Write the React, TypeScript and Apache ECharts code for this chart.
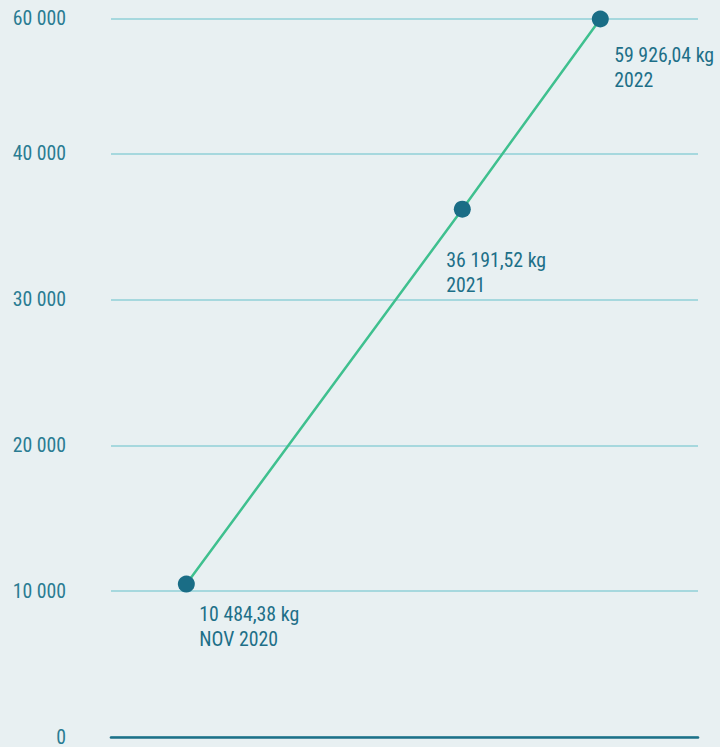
import React, { useEffect, useRef } from "react";
import * as echarts from "echarts";

// Tick values shown on the (piecewise) y axis, and where each sits on the axis
const tickValues = [0, 10000, 20000, 30000, 40000, 60000];
const tickLabels = ["0", "10 000", "20 000", "30 000", "40 000", "60 000"];
const tickPositions = [0, 1, 2, 3, 4, 4.927];

// Series
const periods = ["NOV 2020", "2021", "2022"];
const periodIndex = [0, 2, 3];
const amounts = [10484.38, 36191.52, 59926.04];

const labelOffsets: [number, number][] = [
  [13, 18],
  [-16, 39],
  [14, 24],
];

function toAxis(v: number): number {
  for (let i = 0; i < tickValues.length - 1; i++) {
    if (v <= tickValues[i + 1]) {
      const f = (v - tickValues[i]) / (tickValues[i + 1] - tickValues[i]);
      return tickPositions[i] + f * (tickPositions[i + 1] - tickPositions[i]);
    }
  }
  return tickPositions[tickPositions.length - 1];
}

function labelFor(pos: number): string {
  let best = 0;
  for (let i = 0; i < tickPositions.length; i++) {
    if (Math.abs(tickPositions[i] - pos) < Math.abs(tickPositions[best] - pos)) best = i;
  }
  return Math.abs(tickPositions[best] - pos) < 0.01 ? tickLabels[best] : "";
}

function fmt(v: number): string {
  const [int, dec] = v.toFixed(2).split(".");
  const withSpaces = int.replace(/\B(?=(\d{3})+(?!\d))/g, " ");
  return withSpaces + "," + dec;
}

const FONT = "'Roboto Condensed', 'Liberation Sans Narrow', 'DejaVu Sans Condensed', Roboto, sans-serif";
const FONT_SIZE = 19.8;

export default function App() {
  const ref = useRef<HTMLDivElement>(null);
  useEffect(() => {
    document.body.style.margin = "0";
    const chart = echarts.init(ref.current!, undefined, { renderer: "svg" });
    const data = amounts.map((v, i) => ({
      value: [periodIndex[i], toAxis(v)],
      label: {
        show: true,
        position: "inside",
        align: "left",
        verticalAlign: "top",
        offset: labelOffsets[i],
        formatter: fmt(v) + " kg\n" + periods[i],
        color: "#1d6f88",
        fontSize: FONT_SIZE,
        lineHeight: 25,
        fontFamily: FONT,
      },
    }));
    chart.setOption({
      animation: false,
      backgroundColor: "#e8f0f2",
      grid: { left: 111, right: 22, top: 18.5, bottom: 8.7, containLabel: false },
      xAxis: {
        type: "value",
        min: -0.546,
        max: 3.708,
        splitLine: { show: false },
        axisTick: { show: false },
        axisLabel: { show: false },
        axisLine: { show: true, lineStyle: { color: "#1d7088", width: 2.6 } },
      },
      yAxis: {
        type: "value",
        min: 0,
        max: tickPositions[tickPositions.length - 1],
        interval: 1,
        axisLine: { show: false },
        axisTick: { show: false },
        axisLabel: {
          margin: 45,
          color: "#2a7c92",
          fontSize: FONT_SIZE,
          fontFamily: FONT,
          showMaxLabel: true,
          formatter: (v: number) => labelFor(v),
        },
        splitLine: { show: true, lineStyle: { color: "#a6d8de", width: 2 } },
      },
      series: [
        {
          type: "line",
          data,
          symbol: "circle",
          symbolSize: 17,
          itemStyle: { color: "#1a6d86" },
          lineStyle: { color: "#3fc08f", width: 2.5 },
          z: 3,
        },
      ],
    });
    return () => chart.dispose();
  }, []);
  return (
    <div
      ref={ref}
      style={{ position: "absolute", left: 0, top: 0, width: 720, height: 747 }}
    />
  );
}
